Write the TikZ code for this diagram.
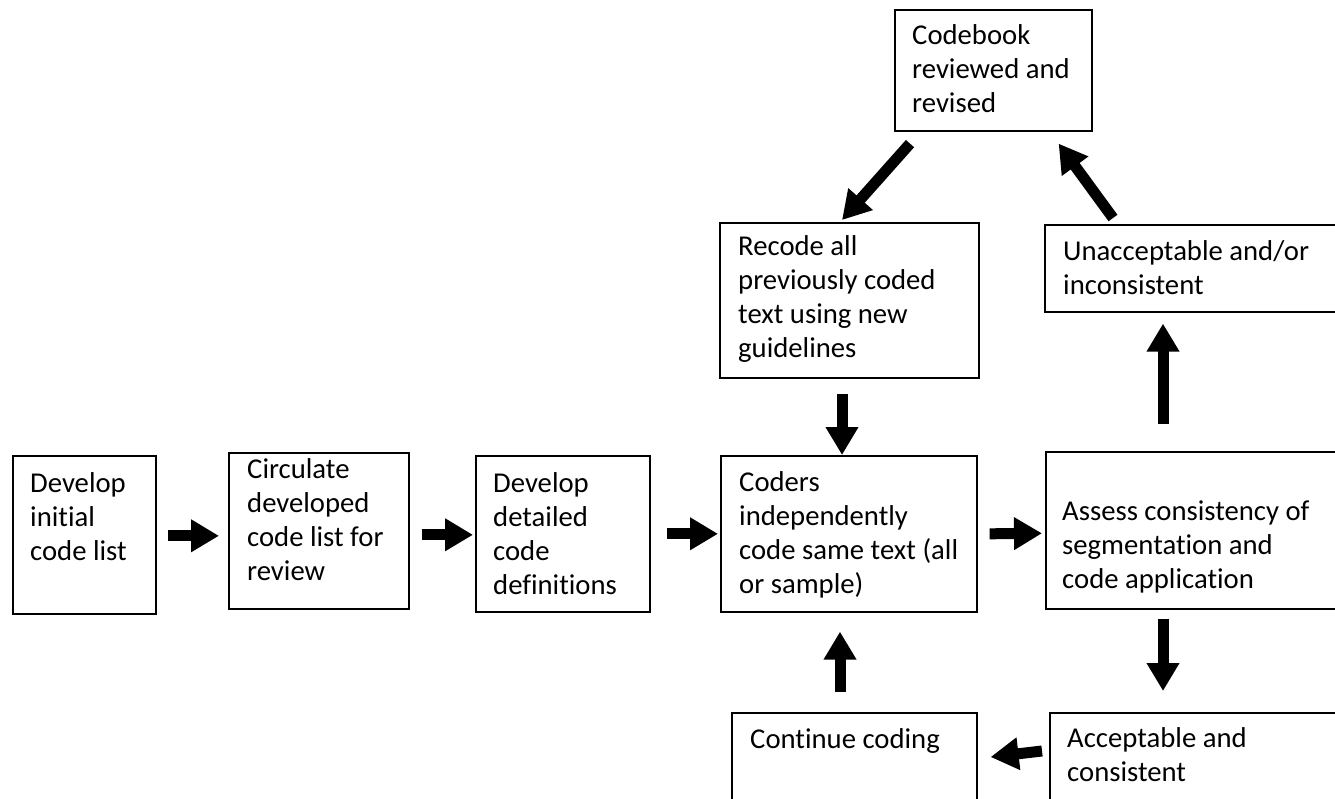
\documentclass[tikz,border=0pt]{standalone}
\usepackage{fontspec}
\setmainfont{Carlito}[Ligatures=NoCommon]
\usetikzlibrary{arrows.meta,calc}
\tikzset{
  box/.style={draw=black, line width=1.6pt, inner sep=0pt, anchor=north west},
  txt/.style={anchor=north west, inner sep=0pt, align=left, font=\fontsize{28.7pt}{34pt}\selectfont},
  blk/.style={line width=11pt, -{Triangle[width=31pt,length=28pt]}}
}
\newcommand{\fs}{\rule{0pt}{24pt}}
\begin{document}
\begin{tikzpicture}[x=1pt,y=-1pt]
\clip (0,0) rectangle (1335,798);
\fill[white] (0,0) rectangle (1335,798);
% boxes
\node[box, minimum width=143pt, minimum height=158pt] (b1) at (12,455) {};
\node[box, minimum width=180pt, minimum height=156pt] (b2) at (228,452) {};
\node[box, minimum width=174pt, minimum height=156pt] (b3) at (475,455) {};
\node[box, minimum width=256pt, minimum height=156pt] (b4) at (720,455) {};
\node[box, minimum width=300pt, minimum height=157pt] (b5) at (1045,451) {};
\node[box, minimum width=259pt, minimum height=155pt] (rec) at (719,222) {};
\node[box, minimum width=197pt, minimum height=121pt] (cb) at (894,9) {};
\node[box, minimum width=301pt, minimum height=87pt] (un) at (1044,224) {};
\node[box, minimum width=245pt, minimum height=98pt] (cont) at (731,712) {};
\node[box, minimum width=296pt, minimum height=98pt] (acc) at (1049,712) {};
% texts
\node[txt] (t1) at ($(b1.north west)+(18,13)$) {\fs Develop\\initial\\code list};
\node[txt] (t2) at ($(b2.north west)+(19,2)$) {\fs Circulate\\developed\\code list for\\review};
\node[txt] (t3) at ($(b3.north west)+(18,13)$) {\fs Develop\\detailed\\code\\definitions};
\node[txt] (t4) at ($(b4.north west)+(19,12)$) {\fs Coders\\independently\\code same text (all\\or sample)};
\node[txt] (t5) at ($(b5.north west)+(17,45)$) {\fs Assess consistency of\\segmentation and\\code application};
\node[txt] (trec) at ($(rec.north west)+(19,9)$) {\fs Recode all\\previously coded\\text using new\\guidelines};
\node[txt] (tcb) at ($(cb.north west)+(18,11)$) {\fs Codebook\\reviewed and\\revised};
\node[txt] (tun) at ($(un.north west)+(19,12)$) {\fs Unacceptable and/or\\inconsistent};
\node[txt] (tcont) at ($(cont.north west)+(19,12)$) {\fs Continue coding};
\node[txt] (tacc) at ($(acc.north west)+(18,11)$) {\fs Acceptable and\\consistent};
% arrows
\draw[blk] ($(b1.east)+(11,1)$) -- ($(b2.west)+(-9,5)$);
\draw[blk] ($(b2.east)+(12,4)$) -- ($(b3.west)+(-2,1)$);
\draw[blk] ($(b3.east)+(16,0)$) -- ($(b4.west)+(-2,0)$);
\draw[blk] ($(b4.east)+(12,0)$) -- ($(b5.west)+(-3,3)$);
\draw[blk] ($(rec.south west)+(123,15)$) -- ($(b4.north west)+(122,0)$);
\draw[blk] ($(b5.north west)+(118,-27)$) -- ($(un.south west)+(119,11)$);
\draw[blk] ($(un.north west)+(69,-6)$) -- ($(cb.south east)+(-34,12)$);
\draw[blk] ($(cb.south west)+(16,12)$) -- ($(rec.north west)+(123,-2)$);
\draw[blk] ($(b5.south west)+(118,9)$) -- ($(acc.north west)+(114,-21)$);
\draw[blk] ($(acc.north west)+(-7,39)$) -- ($(cont.north east)+(13,45)$);
\draw[blk] ($(cont.north west)+(109,-20)$) -- ($(b4.south west)+(120,19)$);
\end{tikzpicture}
\end{document}
